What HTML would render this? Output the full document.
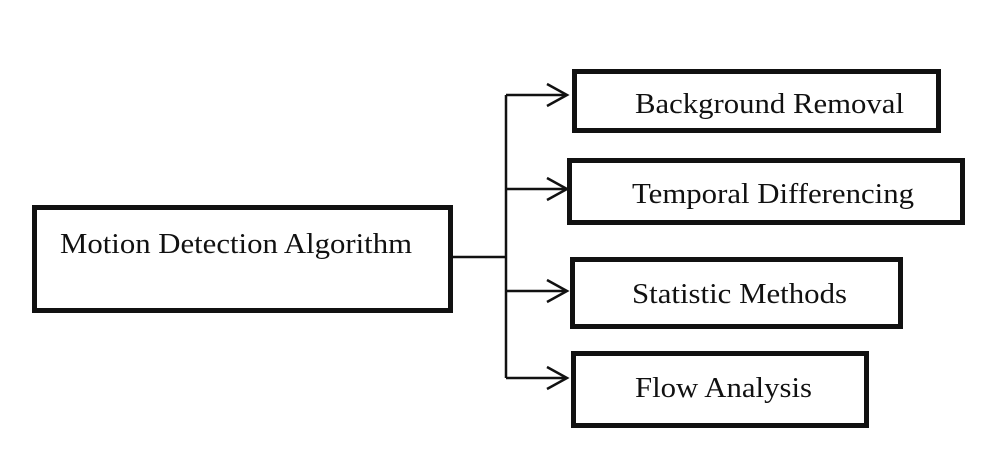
<!DOCTYPE html>
<html><head><meta charset="utf-8"><style>html,body{margin:0;padding:0;background:#fff;}svg{display:block}</style></head>
<body>
<svg width="1004" height="460" viewBox="0 0 1004 460" xmlns="http://www.w3.org/2000/svg">
<g fill="none" stroke="#111" stroke-width="5">
<rect x="34.5" y="207.5" width="416" height="103"/>
<rect x="574.5" y="71.5" width="364" height="59"/>
<rect x="569.5" y="160.5" width="393" height="62"/>
<rect x="572.5" y="259.5" width="328" height="67"/>
<rect x="573.5" y="353.5" width="293" height="72"/>
</g>
<g fill="none" stroke="#111" stroke-width="2.5">
<line x1="453" y1="257" x2="506" y2="257"/>
<line x1="506" y1="95" x2="506" y2="378"/>
<line x1="506" y1="95" x2="567" y2="95"/>
<line x1="506" y1="189" x2="567" y2="189"/>
<line x1="506" y1="291" x2="567" y2="291"/>
<line x1="506" y1="378" x2="567" y2="378"/>
<polyline points="547,84 567,95 547,106"/>
<polyline points="547,178 567,189 547,200"/>
<polyline points="547,280 567,291 547,302"/>
<polyline points="547,367 567,378 547,389"/>
</g>
<g font-family="Liberation Serif, serif" font-size="29" fill="#111">
<text x="60" y="253" textLength="352" lengthAdjust="spacingAndGlyphs">Motion Detection Algorithm</text>
<text x="635" y="113" textLength="269" lengthAdjust="spacingAndGlyphs">Background Removal</text>
<text x="632" y="203" textLength="282" lengthAdjust="spacingAndGlyphs">Temporal Differencing</text>
<text x="632" y="303" textLength="215" lengthAdjust="spacingAndGlyphs">Statistic Methods</text>
<text x="635" y="397" textLength="177" lengthAdjust="spacingAndGlyphs">Flow Analysis</text>
</g>
</svg>
</body></html>
